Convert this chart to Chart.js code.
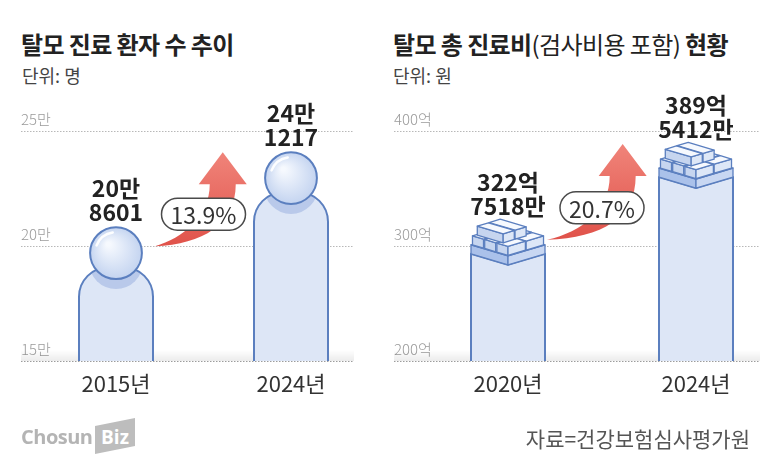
<!DOCTYPE html>
<html>
<head>
<meta charset="utf-8">
<title>탈모 진료 환자 수 추이 / 탈모 총 진료비 현황</title>
<script src="https://cdn.jsdelivr.net/npm/chart.js"></script>
<style>
  body { margin:0; width:782px; height:472px; background:#fff; overflow:hidden; position:relative;
         font-family:'Noto Sans CJK KR','Noto Sans',sans-serif; }
  canvas { position:absolute; top:0; }
  #patientChart { left:0; }
  #costChart { left:391px; }
  .title { position:absolute; top:31px; font-size:24px; font-weight:700; color:#222; line-height:26px;
           letter-spacing:-0.6px; white-space:nowrap; }
  .title span { font-weight:400; }
  .unit { position:absolute; top:65px; font-size:18px; color:#444; line-height:20px; white-space:nowrap; }
  .logo { position:absolute; left:21px; top:424px; height:30px; }
  .logo .chosun { position:absolute; left:0; top:0; font-family:'Open Sans',sans-serif; font-weight:700;
                  font-size:20px; color:#b4b4b4; letter-spacing:-0.5px; line-height:26px; }
  .logo .biz { position:absolute; left:74px; top:-6px; width:40px; height:36px; background:#bdbdbd;
               clip-path:polygon(0 22%, 100% 0, 100% 78%, 0 100%); color:#fff; font-family:'Open Sans',sans-serif;
               font-weight:700; font-size:19px; line-height:38px; text-align:center; }
  .source { position:absolute; right:32px; top:426px; font-size:21px; color:#555; line-height:24px; white-space:nowrap; }
</style>
</head>
<body>
<div class="title" style="left:21px">탈모 진료 환자 수 추이</div>
<div class="unit" style="left:22px">단위: 명</div>
<div class="title" style="left:393px">탈모 총 진료비<span>(검사비용 포함)</span> 현황</div>
<div class="unit" style="left:393px">단위: 원</div>

<canvas id="patientChart" width="391" height="472"></canvas>
<canvas id="costChart" width="391" height="472"></canvas>

<div class="logo"><span class="chosun">Chosun</span><span class="biz">Biz</span></div>
<div class="source">자료=건강보험심사평가원</div>

<script>
// left chart: patients (명)
const patientYears = ['2015년', '2024년'];
const patientCounts = [208601, 241217];
const patientGrowth = 13.9;
const patientTicks = [150000, 200000, 250000];

// right chart: total cost (억원)
const costYears = ['2020년', '2024년'];
const costValues = [322.7518, 389.5412];
const costGrowth = 20.7;
const costTicks = [200, 300, 400];

const FONT = "'Noto Sans CJK KR', 'Noto Sans', sans-serif";
const LINE = '#5b7fbf';
const FILL = '#dde6f6';

function patientText(v) {
  return [Math.floor(v / 10000) + '만', String(v % 10000)];
}
function costText(v) {
  const eok = Math.floor(v);
  return [eok + '억', Math.round((v - eok) * 10000) + '만'];
}

function drawPerson(ctx, x, top, base, w) {
  const x0 = x - w / 2, x1 = x + w / 2;
  const r = w * 0.35;
  const hy = top + r + 1;
  const by = top + 41;
  const cr = w * 0.4;

  const body = new Path2D();
  body.moveTo(x0, base);
  body.lineTo(x0, by + cr);
  body.arcTo(x0, by, x0 + cr, by, cr);
  body.lineTo(x1 - cr, by);
  body.arcTo(x1, by, x1, by + cr, cr);
  body.lineTo(x1, base);

  ctx.fillStyle = FILL;
  ctx.fill(body);
  // shadow of the head on the shoulders
  ctx.save();
  ctx.clip(body);
  ctx.beginPath();
  ctx.arc(x, hy + 9, r + 1, 0, Math.PI * 2);
  ctx.fillStyle = '#b9c9ea';
  ctx.fill();
  ctx.restore();
  ctx.strokeStyle = LINE;
  ctx.lineWidth = 2;
  ctx.stroke(body);

  const g = ctx.createRadialGradient(x - r * 0.3, hy - r * 0.35, 2, x, hy, r);
  g.addColorStop(0, '#f6f9fe');
  g.addColorStop(1, '#c4d4f0');
  ctx.beginPath();
  ctx.arc(x, hy, r, 0, Math.PI * 2);
  ctx.fillStyle = g;
  ctx.fill();
  ctx.stroke();

  ctx.beginPath();
  ctx.arc(x, hy, r - 5, Math.PI * 1.12, Math.PI * 1.45);
  ctx.strokeStyle = 'rgba(255,255,255,0.95)';
  ctx.lineWidth = 2.5;
  ctx.lineCap = 'round';
  ctx.stroke();
  ctx.lineCap = 'butt';
}

function drawColumn(ctx, x, top, base, w) {
  const hw = w / 2, dz = 11, fy = top + 36, slab = 9, bh = 9;
  const P = (i, j, k) => [x + (i - j) * hw, fy - (i + j) * dz - k];
  const poly = (pts, fill) => {
    ctx.beginPath();
    pts.forEach((p, n) => n ? ctx.lineTo(p[0], p[1]) : ctx.moveTo(p[0], p[1]));
    ctx.closePath();
    ctx.fillStyle = fill;
    ctx.fill();
    ctx.stroke();
  };
  ctx.strokeStyle = LINE;
  ctx.lineJoin = 'round';

  // column front
  const L2 = P(0, 1, -slab), F2 = P(0, 0, -slab), R2 = P(1, 0, -slab);
  ctx.beginPath();
  ctx.moveTo(x - hw, base);
  ctx.lineTo(L2[0], L2[1]);
  ctx.lineTo(F2[0], F2[1]);
  ctx.lineTo(R2[0], R2[1]);
  ctx.lineTo(x + hw, base);
  ctx.fillStyle = FILL;
  ctx.fill();
  ctx.lineWidth = 2;
  ctx.stroke();

  // slab
  ctx.lineWidth = 1.3;
  poly([P(0, 1, 0), P(0, 0, 0), P(0, 0, -slab), P(0, 1, -slab)], '#aac1ea');
  poly([P(0, 0, 0), P(1, 0, 0), P(1, 0, -slab), P(0, 0, -slab)], '#c8d7f2');
  poly([P(0, 1, 0), P(0, 0, 0), P(1, 0, 0), P(1, 1, 0)], '#eef3fb');

  // bricks on top
  const bricks = [];
  [[0.02, 0.49], [0.51, 0.98]].forEach(ii => {
    [[0.02, 0.32], [0.35, 0.65], [0.68, 0.98]].forEach(jj => bricks.push([ii[0], ii[1], jj[0], jj[1], 0]));
  });
  bricks.push([0.12, 0.42, 0.25, 0.95, bh], [0.44, 0.74, 0.25, 0.95, bh]);
  bricks.sort((a, b) => (a[4] - b[4]) || ((b[0] + b[2]) - (a[0] + a[2])));
  bricks.forEach(([i0, i1, j0, j1, k0]) => {
    const k1 = k0 + bh;
    poly([P(i0, j0, k0), P(i0, j1, k0), P(i0, j1, k1), P(i0, j0, k1)], '#c6d5ef');
    poly([P(i0, j0, k0), P(i1, j0, k0), P(i1, j0, k1), P(i0, j0, k1)], '#dde7f7');
    poly([P(i0, j0, k1), P(i1, j0, k1), P(i1, j1, k1), P(i0, j1, k1)], '#f6f9fe');
  });
}

function drawArrow(ctx, tx, ty, ex, ey) {
  const g = ctx.createLinearGradient(0, ty, 0, ey);
  g.addColorStop(0, '#f0847a');
  g.addColorStop(1, '#e0524a');
  ctx.beginPath();
  ctx.moveTo(tx, ty);
  ctx.lineTo(tx + 24, ty + 32);
  ctx.lineTo(tx + 13, ty + 32);
  ctx.bezierCurveTo(tx + 13, ey - 22, tx - 20, ey - 2, ex, ey);
  ctx.bezierCurveTo(tx - 40, ey - 8, tx - 13, ey - 30, tx - 13, ty + 32);
  ctx.lineTo(tx - 24, ty + 32);
  ctx.closePath();
  ctx.fillStyle = g;
  ctx.fill();
}

function decoPlugin(cfg) {
  return {
    id: 'deco',
    beforeDatasetsDraw(chart) {
      const ctx = chart.ctx, y = chart.scales.y;
      const base = y.getPixelForValue(cfg.ticks[0]);
      ctx.save();
      const sg = ctx.createLinearGradient(0, base - 11, 0, base);
      sg.addColorStop(0, 'rgba(0,0,0,0)');
      sg.addColorStop(1, 'rgba(0,0,0,0.08)');
      ctx.fillStyle = sg;
      ctx.fillRect(cfg.gridX[0], base - 11, cfg.gridX[1] - cfg.gridX[0], 11);
      ctx.setLineDash([1.5, 1.5]);
      ctx.lineWidth = 1;
      y.ticks.forEach(t => {
        const py = Math.round(y.getPixelForValue(t.value)) + 0.5;
        ctx.strokeStyle = t.value === cfg.ticks[0] ? '#9c9c9c' : '#b8b8b8';
        ctx.beginPath();
        ctx.moveTo(cfg.gridX[0], py);
        ctx.lineTo(cfg.gridX[1], py);
        ctx.stroke();
      });
      ctx.restore();
    },
    afterDatasetsDraw(chart) {
      const ctx = chart.ctx;
      const bars = chart.getDatasetMeta(0).data.map(el => el.getProps(['x', 'y', 'base', 'width'], true));
      ctx.save();
      bars.forEach(b => (cfg.shape === 'person' ? drawPerson : drawColumn)(ctx, b.x, b.y, b.base, b.width));

      const b0 = bars[0], b1 = bars[1];
      drawArrow(ctx, b0.x + (b1.x - b0.x) * 0.61, b1.y + 1, b0.x + b0.width / 2 + 2, b0.y + 20);

      // growth pill
      const px = (b0.x + b1.x) / 2, py = b0.y - 12;
      ctx.beginPath();
      ctx.roundRect(px - 42, py - 16, 84, 32, 16);
      ctx.fillStyle = '#fff';
      ctx.fill();
      ctx.strokeStyle = '#4a4a4a';
      ctx.lineWidth = 1.5;
      ctx.stroke();
      ctx.fillStyle = '#333';
      ctx.font = '400 23px ' + FONT;
      ctx.textAlign = 'center';
      ctx.textBaseline = 'middle';
      ctx.fillText(cfg.growth.toFixed(1) + '%', px, py + 1);

      // value labels
      ctx.font = '700 23px ' + FONT;
      ctx.fillStyle = '#222';
      bars.forEach((b, i) => {
        const lines = cfg.fmt(cfg.values[i]);
        ctx.fillText(lines[0], b.x, b.y - 38);
        ctx.fillText(lines[1], b.x, b.y - 14);
      });
      ctx.restore();
    }
  };
}

function makeChart(id, cfg) {
  return new Chart(document.getElementById(id), {
    type: 'bar',
    data: {
      labels: cfg.labels,
      datasets: [{
        data: cfg.values,
        base: cfg.ticks[0],
        backgroundColor: 'rgba(0,0,0,0)',
        borderWidth: 0,
        barThickness: 74
      }]
    },
    options: {
      responsive: false,
      animation: false,
      events: [],
      layout: { padding: cfg.padding },
      plugins: { legend: { display: false }, tooltip: { enabled: false } },
      scales: {
        x: {
          offset: false,
          grid: { display: false, drawTicks: false },
          border: { display: false },
          ticks: { color: '#333', font: { family: FONT, size: 22 }, padding: 9, maxRotation: 0, autoSkip: false },
          afterFit: s => { s.height = 40; }
        },
        y: {
          min: cfg.ticks[0],
          max: cfg.ticks[cfg.ticks.length - 1],
          grid: { display: false, drawTicks: false },
          border: { display: false },
          afterBuildTicks: s => { s.ticks = cfg.ticks.map(v => ({ value: v })); },
          ticks: {
            mirror: true,
            padding: cfg.tickPad,
            labelOffset: -12,
            color: '#9a9a9a',
            font: { family: FONT, size: 15, weight: 300 },
            callback: cfg.tickFmt
          },
          afterFit: s => { s.width = 0; }
        }
      }
    },
    plugins: [decoPlugin(cfg)]
  });
}

makeChart('patientChart', {
  labels: patientYears,
  values: patientCounts,
  ticks: patientTicks,
  growth: patientGrowth,
  fmt: patientText,
  tickFmt: v => (v / 10000) + '만',
  shape: 'person',
  padding: { top: 131, left: 116, right: 100, bottom: 71 },
  tickPad: -95,
  gridX: [21, 354]
});

makeChart('costChart', {
  labels: costYears,
  values: costValues,
  ticks: costTicks,
  growth: costGrowth,
  fmt: costText,
  tickFmt: v => v + '억',
  shape: 'bricks',
  padding: { top: 131, left: 117, right: 86, bottom: 71 },
  tickPad: -114,
  gridX: [3, 369]
});
</script>
</body>
</html>
